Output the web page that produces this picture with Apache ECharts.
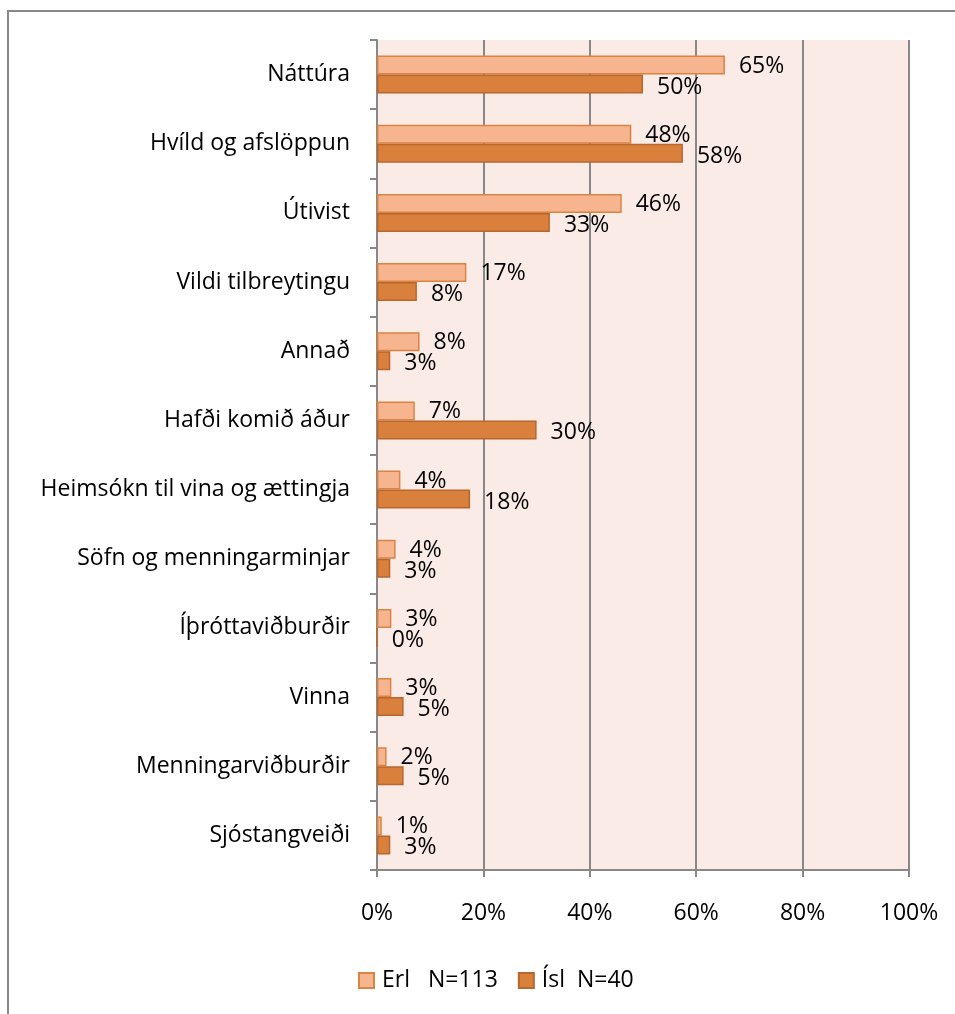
<!DOCTYPE html>
<html>
<head>
<meta charset="utf-8">
<script src="https://cdn.jsdelivr.net/npm/echarts@6/dist/echarts.min.js"></script>
<style>
  html, body { margin: 0; padding: 0; background: #fff; }
  #chart { width: 955px; height: 1014px; }
</style>
</head>
<body>
<div id="chart"></div>
<script>
// categories, top to bottom
var categories = [
  "Náttúra", "Hvíld og afslöppun", "Útivist", "Vildi tilbreytingu", "Annað",
  "Hafði komið áður", "Heimsókn til vina og ættingja", "Söfn og menningarminjar",
  "Íþróttaviðburðir", "Vinna", "Menningarviðburðir", "Sjóstangveiði"
];
// percent of respondents
var erl = [65.4, 47.8, 46.0, 16.8, 8.0, 7.1, 4.4, 3.5, 2.7, 2.7, 1.8, 0.9];
var isl = [50.0, 57.5, 32.5, 7.5, 2.5, 30.0, 17.5, 2.5, 0.0, 5.0, 5.0, 2.5];
var seriesNames = ["Erl   N=113", "Ísl  N=40"];
var xTicks = [0, 20, 40, 60, 80, 100];

var font = "'Open Sans', sans-serif";
var fs = 23;
var chart = echarts.init(document.getElementById("chart"));

function pct(p) { return Math.round(p.value) + "%"; }

var option = {
  animation: false,
  textStyle: { fontFamily: font },
  graphic: [{
    type: "rect",
    shape: { x: 8, y: 11, width: 1100, height: 1100 },
    style: { fill: "none", stroke: "#888", lineWidth: 2 }
  }],
  grid: {
    left: 377, right: 46, top: 40, bottom: 144,
    show: true, backgroundColor: "#FBEBE7", borderWidth: 0
  },
  legend: {
    left: 353, top: 964,
    icon: "rect", itemWidth: 15, itemHeight: 15, itemGap: 20,
    textStyle: { fontSize: fs, color: "#000", fontFamily: font, padding: [0, 0, 0, 3] },
    data: seriesNames
  },
  xAxis: {
    type: "value", min: xTicks[0], max: xTicks[xTicks.length - 1], interval: 20,
    axisLine: { show: true, lineStyle: { color: "#888", width: 2 } },
    axisTick: { show: true, length: 7, lineStyle: { color: "#888", width: 2 } },
    splitLine: { show: true, lineStyle: { color: "#888", width: 2 } },
    axisLabel: { formatter: "{value}%", fontSize: fs, color: "#000", margin: 32 }
  },
  yAxis: {
    type: "category", inverse: true, data: categories,
    axisLine: { show: true, lineStyle: { color: "#888", width: 2 } },
    axisTick: { show: true, length: 7, lineStyle: { color: "#888", width: 2 } },
    axisLabel: { fontSize: fs, color: "#000", margin: 27 }
  },
  series: [
    {
      name: seriesNames[0], type: "bar", data: erl,
      barWidth: 19, barGap: "0%",
      itemStyle: { color: "#F6B48F", borderColor: "#DA8443", borderWidth: 1.5 },
      label: { show: true, position: "right", distance: 14, offset: [0, 1],
        formatter: pct, fontSize: fs, color: "#000" }
    },
    {
      name: seriesNames[1], type: "bar", data: isl,
      barWidth: 19, barGap: "0%",
      itemStyle: { color: "#D9803C", borderColor: "#B8662D", borderWidth: 1.5 },
      label: { show: true, position: "right", distance: 14, offset: [0, 3],
        formatter: pct, fontSize: fs, color: "#000" }
    }
  ]
};
chart.setOption(option);
</script>
</body>
</html>
